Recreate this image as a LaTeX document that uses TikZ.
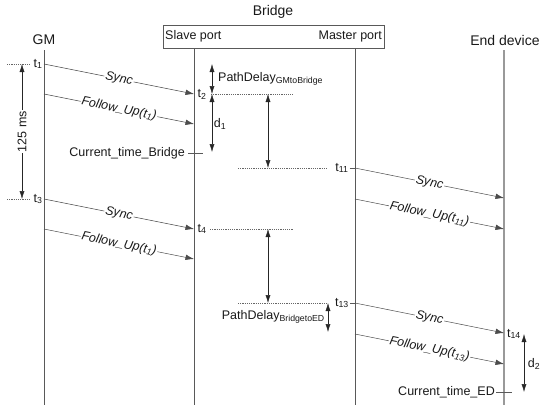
\documentclass[tikz,border=0pt]{standalone}
\usepackage{fontspec}
\setmainfont{Liberation Sans}
\usetikzlibrary{arrows.meta}
\tikzset{
 life/.style={draw=black!65, line width=0.7pt},
 lifeed/.style={draw=black!40, line width=1.4pt},
 msg/.style={draw=black!70, line width=0.5pt, -{Latex[length=8.5pt,width=5.5pt]}},
 dimarrow/.style={draw=black!85, line width=0.5pt, {Latex[length=8pt,width=5pt]}-{Latex[length=8pt,width=5pt]}},
 guide/.style={draw=black!60, line width=0.4pt, dash pattern=on 1.2pt off 1pt},
 tickline/.style={draw=black!65, line width=0.5pt},
 txt/.style={font=\fontsize{12.5pt}{14pt}\selectfont, inner sep=1pt, text=black!90},
 head/.style={font=\fontsize{14pt}{16pt}\selectfont, inner sep=0pt, text=black!90},
 msglbl/.style={sloped, fill=white, inner sep=1pt, text=black!90, font=\fontsize{12.5pt}{14pt}\selectfont\itshape},
}
\begin{document}
\begin{tikzpicture}[x=1pt,y=-1pt]
\useasboundingbox (0,0) rectangle (543,410);
% headers
\node[head] (bridge) at (273,12) {Bridge};
\node[draw=black!65, line width=0.6pt, minimum width=221pt, minimum height=23pt, inner sep=0pt] (box) at (273.5,36.5) {};
\node[txt, anchor=west] (slave) at (164,36.5) {Slave port};
\node[txt, anchor=east] (master) at (383,36.5) {Master port};
\node[head] (gm) at (44,40) {GM};
\node[head] (ed) at (505,40) {End device};
% lifelines
\coordinate (gmT) at (44,50); \coordinate (gmB) at (44,405);
\coordinate (spT) at (194,48); \coordinate (spB) at (194,405);
\coordinate (mpT) at (355,48); \coordinate (mpB) at (355,405);
\coordinate (edT) at (504,50); \coordinate (edB) at (504,405);
\draw[life] (gmT) -- (gmB);
\draw[life] (spT) -- (spB);
\draw[life] (mpT) -- (mpB);
\draw[lifeed] (edT) -- (edB);
% event points
\coordinate (g1) at (44,64);   \coordinate (s2) at (194,94);
\coordinate (g1f) at (44,94);  \coordinate (s2f) at (194,124);
\coordinate (m11) at (355,168); \coordinate (e11) at (504,198);
\coordinate (m11f) at (355,199); \coordinate (e11f) at (504,229);
\coordinate (g3) at (44,199);  \coordinate (s4) at (194,229);
\coordinate (g3f) at (44,229); \coordinate (s4f) at (194,259);
\coordinate (m13) at (355,303); \coordinate (e14) at (504,333);
\coordinate (m13f) at (355,334); \coordinate (e13f) at (504,364);
% messages
\draw[msg] (g1) -- node[msglbl]{Sync} (s2);
\draw[msg] (g1f) -- node[msglbl]{Follow\_Up(t\textsubscript{1})} (s2f);
\draw[msg] (m11) -- node[msglbl]{Sync} (e11);
\draw[msg] (m11f) -- node[msglbl]{Follow\_Up(t\textsubscript{11})} (e11f);
\draw[msg] (g3) -- node[msglbl]{Sync} (s4);
\draw[msg] (g3f) -- node[msglbl]{Follow\_Up(t\textsubscript{1})} (s4f);
\draw[msg] (m13) -- node[msglbl]{Sync} (e14);
\draw[msg] (m13f) -- node[msglbl]{Follow\_Up(t\textsubscript{13})} (e13f);
% 125 ms
\coordinate (d1a) at (7,64); \coordinate (d1b) at (30,64);
\coordinate (d3a) at (7,199); \coordinate (d3b) at (30,199);
\draw[guide] (d1a) -- (d1b);
\draw[guide] (d3a) -- (d3b);
\coordinate (p125a) at (22,64); \coordinate (p125b) at (22,199);
\draw[dimarrow] (p125a) -- node[txt, rotate=90, fill=white, inner sep=1.5pt]{125 ms} (p125b);
\node[txt] (t1) at (38,64) {t\textsubscript{1}};
\node[txt] (t3) at (38,199) {t\textsubscript{3}};
% bridge slave side
\node[txt] (t2) at (202,94) {t\textsubscript{2}};
\node[txt] (t4) at (202,229) {t\textsubscript{4}};
\coordinate (g2a) at (211,94); \coordinate (g2b) at (293,94);
\draw[guide] (g2a) -- (g2b);
\coordinate (g4a) at (210,229); \coordinate (g4b) at (293,229);
\draw[guide] (g4a) -- (g4b);
\coordinate (pda) at (212,64); \coordinate (pdb) at (212,94); \coordinate (pdc) at (212,152);
\draw[dimarrow] (pda) -- (pdb);
\draw[dimarrow] (pdb) -- (pdc);
\node[txt, anchor=west] (pdgm) at (217,79) {PathDelay\textsubscript{GMtoBridge}};
\node[txt] (d1) at (220,124) {d\textsubscript{1}};
\node[txt, anchor=east] (ctb) at (186,153) {Current\_time\_Bridge};
\coordinate (ctbt) at (203,153);
\draw[tickline] (ctb.east) ++(2pt,0) -- (ctbt);
% residence arrows
\coordinate (r1a) at (268,94); \coordinate (r1b) at (268,168);
\draw[dimarrow] (r1a) -- (r1b);
\coordinate (r2a) at (268,229); \coordinate (r2b) at (268,303);
\draw[dimarrow] (r2a) -- (r2b);
\coordinate (g11a) at (238,168); \coordinate (g11b) at (328,168);
\draw[guide] (g11a) -- (g11b);
\coordinate (g13a) at (238,303); \coordinate (g13b) at (328,303);
\draw[guide] (g13a) -- (g13b);
\node[txt] (t11) at (342,168) {t\textsubscript{11}};
\node[txt] (t13) at (342,303) {t\textsubscript{13}};
\draw[tickline] (t11.east) -- (m11);
\draw[tickline] (t13.east) -- (m13);
\coordinate (pbA) at (328,303); \coordinate (pbB) at (328,332);
\draw[dimarrow] (pbA) -- (pbB);
\node[txt, anchor=east] (pded) at (326,317) {PathDelay\textsubscript{BridgetoED}};
% end device
\node[txt] (t14) at (514,334) {t\textsubscript{14}};
\coordinate (d2a) at (524,334); \coordinate (d2b) at (524,392);
\draw[dimarrow] (d2a) -- (d2b);
\node[txt] (d2) at (534,364) {d\textsubscript{2}};
\node[txt, anchor=east] (cted) at (496,392) {Current\_time\_ED};
\coordinate (ctedt) at (512,392);
\draw[tickline] (cted.east) -- (ctedt);
\end{tikzpicture}
\end{document}
